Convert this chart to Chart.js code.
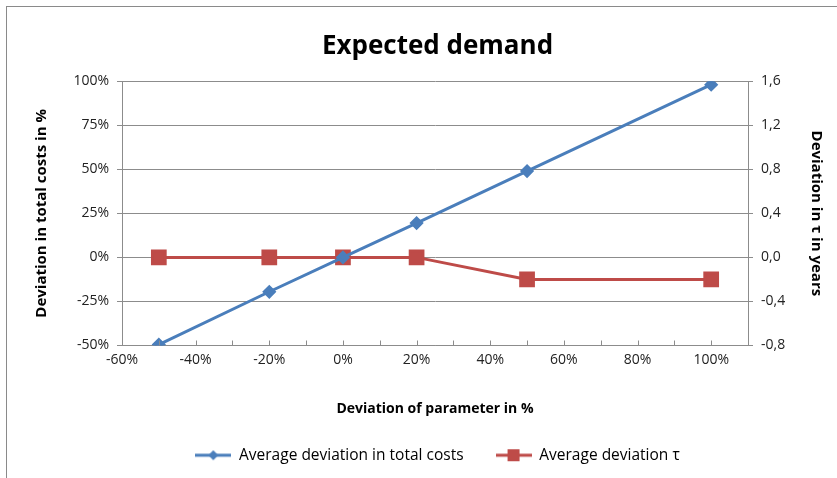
<!DOCTYPE html>
<html>
<head>
<meta charset="utf-8">
<script src="https://cdn.jsdelivr.net/npm/chart.js@4"></script>
<style>
  html, body { margin: 0; padding: 0; background: #fff; overflow: hidden; }
  #wrap { position: absolute; left: 0; top: 0; width: 837px; height: 478px; }
  #frame { position: absolute; left: 6px; top: 6px; width: 900px; height: 600px;
           border-left: 1px solid #8a8a8a; border-top: 1px solid #8a8a8a; }
</style>
</head>
<body>
<div id="frame"></div>
<div id="wrap"><canvas id="myChart" width="837" height="478"></canvas></div>
<script>
// parameter deviation (%) on x
let paramDev = [-50, -20, 0, 20, 50, 100];
// average deviation in total costs (%)
let costDev = [-49.5, -19.5, 0, 19.5, 49, 98];
// average deviation of tau (years)
let tauDev = [0, 0, 0, 0, -0.2, -0.2];
let xTickLabels = [-60, -40, -20, 0, 20, 40, 60, 80, 100];
let leftTicks = [-50, -25, 0, 25, 50, 75, 100];
let rightTicks = [-0.8, -0.4, 0, 0.4, 0.8, 1.2, 1.6];

const BLUE = "#4a7ebb";
const RED = "#be4b48";
const AXIS = "#8c8c8c";
const FONT = "'Open Sans', 'Noto Sans', sans-serif";

function legendIcon(color, shape) {
    let c = document.createElement("canvas");
    c.width = 36; c.height = 14;
    let g = c.getContext("2d");
    g.strokeStyle = color;
    g.lineWidth = 3;
    g.beginPath(); g.moveTo(0, 7); g.lineTo(36, 7); g.stroke();
    g.fillStyle = color;
    g.beginPath();
    if (shape === "diamond") {
        g.moveTo(18, 2); g.lineTo(23, 7); g.lineTo(18, 12); g.lineTo(13, 7);
    } else {
        g.rect(12, 1, 12, 12);
    }
    g.fill();
    return c;
}
let icons = [legendIcon(BLUE, "diamond"), legendIcon(RED, "square")];

// inward minor tick marks on the x axis
let innerTicks = {
    id: "innerTicks",
    afterDatasetsDraw(chart) {
        let x = chart.scales.x;
        let ctx = chart.ctx;
        let bottom = chart.chartArea.bottom;
        ctx.save();
        ctx.strokeStyle = AXIS;
        ctx.lineWidth = 1;
        x.ticks.forEach(t => {
            let px = Math.round(x.getPixelForValue(t.value)) + 0.5;
            ctx.beginPath();
            ctx.moveTo(px, bottom);
            ctx.lineTo(px, bottom - 5);
            ctx.stroke();
        });
        ctx.restore();
    }
};

(function () {
    let ctx = document.getElementById("myChart").getContext("2d");
    let datas = {
        datasets: [{
            label: "Average deviation in total costs",
            data: paramDev.map((v, i) => ({ x: v, y: costDev[i] })),
            borderColor: BLUE,
            backgroundColor: BLUE,
            borderWidth: 3,
            pointStyle: "rectRot",
            pointRadius: 5,
            pointHoverRadius: 5,
            yAxisID: "y",
        }, {
            label: "Average deviation \u03c4",
            data: paramDev.map((v, i) => ({ x: v, y: tauDev[i] })),
            borderColor: RED,
            backgroundColor: RED,
            borderWidth: 3,
            pointStyle: "rect",
            pointRadius: 9,
            pointHoverRadius: 9,
            yAxisID: "y1",
        }]
    };

    let option = {
        responsive: false,
        animation: false,
        layout: { padding: { left: 38, right: 0, top: 0, bottom: 5 } },
        plugins: {
            title: {
                display: true,
                text: "Expected demand",
                color: "#000",
                font: { family: FONT, size: 26, weight: "bold" },
                padding: { top: 31, bottom: 19 }
            },
            legend: {
                position: "bottom",
                labels: {
                    usePointStyle: true,
                    pointStyleWidth: 36,
                    boxHeight: 14,
                    padding: 32,
                    color: "#222",
                    font: { family: FONT, size: 15.5 },
                    generateLabels: function (chart) {
                        return chart.data.datasets.map((d, i) => ({
                            text: d.label,
                            pointStyle: icons[i],
                            fillStyle: d.borderColor,
                            strokeStyle: d.borderColor,
                            lineWidth: 0,
                            datasetIndex: i,
                            hidden: false
                        }));
                    }
                }
            },
            tooltip: { enabled: false }
        },
        scales: {
            x: {
                type: "linear",
                min: -60,
                max: 110,
                afterFit: function (s) { s.height = 70; },
                afterBuildTicks: function (s) {
                    let t = [];
                    for (let v = -60; v <= 110; v += 10) t.push({ value: v });
                    s.ticks = t;
                },
                ticks: {
                    autoSkip: false,
                    maxRotation: 0,
                    color: "#222",
                    padding: 6,
                    font: { family: FONT, size: 14 },
                    callback: v => xTickLabels.includes(v) ? v + "%" : ""
                },
                grid: { drawOnChartArea: false, drawTicks: false },
                border: { color: AXIS, width: 1 },
                title: {
                    display: true,
                    text: "Deviation of parameter in %",
                    color: "#000",
                    font: { family: FONT, size: 14, weight: "bold" },
                    padding: { top: 10, bottom: -2 }
                }
            },
            y: {
                position: "left",
                min: -50,
                max: 100,
                afterFit: function (s) { s.width = 84; },
                afterBuildTicks: function (s) { s.ticks = leftTicks.map(v => ({ value: v })); },
                ticks: {
                    color: "#222",
                    padding: 8,
                    font: { family: FONT, size: 14 },
                    callback: v => v + "%"
                },
                grid: { color: AXIS, tickLength: 5, tickColor: AXIS },
                border: { color: AXIS, width: 1 },
                title: {
                    display: true,
                    text: "Deviation in total costs in %",
                    color: "#000",
                    font: { family: FONT, size: 15, weight: "bold" },
                    padding: { top: -5, bottom: 0 }
                }
            },
            y1: {
                position: "right",
                min: -0.8,
                max: 1.6,
                afterFit: function (s) { s.width = 89; },
                afterBuildTicks: function (s) { s.ticks = rightTicks.map(v => ({ value: v })); },
                ticks: {
                    color: "#222",
                    padding: 8,
                    font: { family: FONT, size: 14 },
                    callback: v => v.toFixed(1).replace(".", ",")
                },
                grid: { drawOnChartArea: false, tickLength: 5, tickColor: AXIS },
                border: { color: AXIS, width: 1 },
                title: {
                    display: true,
                    text: "Deviation in \u03c4 in years",
                    color: "#000",
                    font: { family: FONT, size: 15, weight: "bold" },
                    padding: { top: 12, bottom: 0 }
                }
            }
        }
    };

    let myChart = new Chart(ctx, {
        type: "line",
        data: datas,
        options: option,
        plugins: [innerTicks]
    });
})();
</script>
</body>
</html>
